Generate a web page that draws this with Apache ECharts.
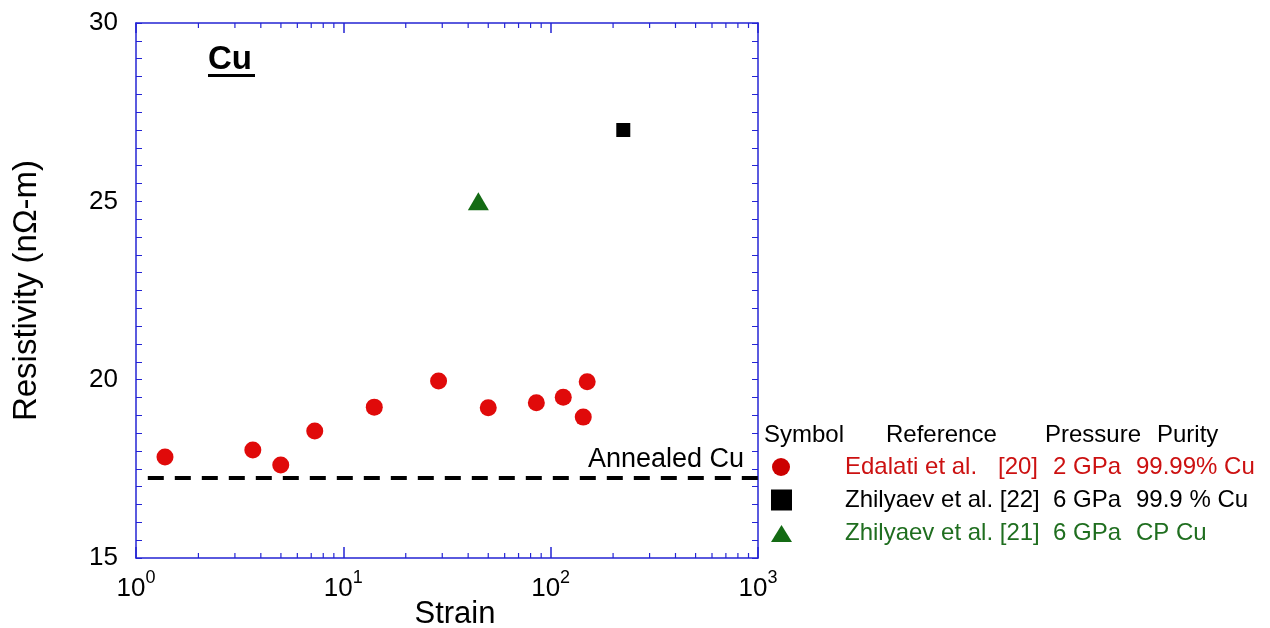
<!DOCTYPE html>
<html>
<head>
<meta charset="utf-8">
<script src="https://cdn.jsdelivr.net/npm/echarts@6/dist/echarts.min.js"></script>
<style>html,body{margin:0;padding:0;background:#fff;}#c{width:1270px;height:628px;}</style>
</head>
<body>
<div id="c"></div>
<script>
// ---- data ----
var edalatiStrain = [1.38, 3.66, 4.99, 7.28, 14.1, 28.8, 50.0, 85.3, 115, 143.6, 150];
var edalatiRes    = [17.83, 18.03, 17.61, 18.56, 19.23, 19.96, 19.21, 19.35, 19.51, 18.95, 19.94];
var zhil22Strain = [224];
var zhil22Res    = [27.0];
var zhil21Strain = [44.8];
var zhil21Res    = [25.0];
var annealedRes = 17.24;
var annealedStrain = [1.14, 1000];
var xMinorTicks = [2,3,4,5,6,7,8,9,20,30,40,50,60,70,80,90,200,300,400,500,600,700,800,900];
var yTicks = [15, 20, 25, 30];
var legendHeader = ['Symbol', 'Reference', 'Pressure', 'Purity'];
var legendRefs = ['Edalati et al.', 'Zhilyaev et al. [22]', 'Zhilyaev et al. [21]'];
var legendRefNum = ['[20]', '', ''];
var legendPress = ['2 GPa', '6 GPa', '6 GPa'];
var legendPurity = ['99.99% Cu', '99.9 % Cu', 'CP Cu'];

var FONT = "'Liberation Sans', Arial, sans-serif";
var AX = '#2424d4';
var RED = '#e00a0a', BLACK = '#000000', GREEN = '#146b14';
var TXT = ['#cc1111', '#000000', '#1f6e1f'];
var yMin = 15, yMax = 30;

function zip(a, b){ return a.map(function(v,i){ return [v, b[i]]; }); }

var chart = echarts.init(document.getElementById('c'));

var graphics = [];
// title
graphics.push({type:'text', left:208, top:43, style:{text:'Cu', font:'bold 33px ' + FONT, fill:'#000'}});
graphics.push({type:'rect', shape:{x:208, y:74, width:47, height:3}, style:{fill:'#000'}});
// annealed label
graphics.push({type:'text', x:744, y:460, style:{text:'Annealed Cu', font:'27px ' + FONT, fill:'#000', align:'right', verticalAlign:'middle'}});
// legend header
var hx = [764, 886, 1045, 1157];
legendHeader.forEach(function(t, i){
  graphics.push({type:'text', x:hx[i], y:435, style:{text:t, font:'24px ' + FONT, fill:'#000', verticalAlign:'middle'}});
});
var rowY = [467, 500, 533];
// legend symbols
graphics.push({type:'circle', shape:{cx:781, cy:rowY[0], r:9}, style:{fill:'#cc0000'}});
graphics.push({type:'rect', shape:{x:771, y:rowY[1]-10.5, width:21, height:21}, style:{fill:'#000'}});
graphics.push({type:'polygon', shape:{points:[[781.5,525],[792,542],[771,542]]}, style:{fill:GREEN}});
for (var i = 0; i < 3; i++) {
  graphics.push({type:'text', x:845, y:rowY[i], style:{text:legendRefs[i], font:'24px ' + FONT, fill:TXT[i], verticalAlign:'middle'}});
  if (legendRefNum[i]) graphics.push({type:'text', x:1038, y:rowY[i], style:{text:legendRefNum[i], font:'24px ' + FONT, fill:TXT[i], align:'right', verticalAlign:'middle'}});
  graphics.push({type:'text', x:1053, y:rowY[i], style:{text:legendPress[i], font:'24px ' + FONT, fill:TXT[i], verticalAlign:'middle'}});
  graphics.push({type:'text', x:1136, y:rowY[i], style:{text:legendPurity[i], font:'24px ' + FONT, fill:TXT[i], verticalAlign:'middle'}});
}

var xLabel = {
  show:true, margin:11, color:'#000', fontFamily:FONT,
  formatter:function(v){ var e = Math.round(Math.log10(v)); return '{b|10}{s|' + e + '}'; },
  rich:{ b:{fontSize:26, lineHeight:40, fontFamily:FONT, color:'#000'}, s:{fontSize:18, lineHeight:18, fontFamily:FONT, color:'#000', verticalAlign:'top'} }
};

var option = {
  animation:false,
  backgroundColor:'#fff',
  grid:{left:136, right:512, top:23, bottom:70, containLabel:false, outerBoundsMode:'none'},
  graphic:graphics,
  xAxis:[
    {type:'log', logBase:10, min:1, max:1000, position:'bottom',
     name:'Strain', nameLocation:'middle', nameGap:41, nameMoveOverlap:false,
     nameTextStyle:{fontSize:31, fontFamily:FONT, color:'#000', padding:[0,0,0,16]},
     axisLine:{show:true, onZero:false, lineStyle:{color:AX, width:1.5}},
     axisTick:{show:true, inside:true, length:11, lineStyle:{color:AX, width:1.5}},
     axisLabel:xLabel, splitLine:{show:false}},
    {type:'log', logBase:10, min:1, max:1000, position:'top',
     axisLine:{show:true, onZero:false, lineStyle:{color:AX, width:1.5}},
     axisTick:{show:true, inside:true, length:10, lineStyle:{color:AX, width:1.5}},
     axisLabel:{show:false}, splitLine:{show:false}}
  ],
  yAxis:[
    {type:'value', min:yMin, max:yMax, interval:5, position:'left',
     name:'Resistivity (nΩ-m)', nameLocation:'middle', nameGap:93, nameMoveOverlap:false,
     nameTextStyle:{fontSize:33, fontFamily:FONT, color:'#000'},
     axisLine:{show:true, onZero:false, lineStyle:{color:AX, width:1.5}},
     axisTick:{show:true, inside:true, length:6, lineStyle:{color:AX, width:1}},
     minorTick:{show:true, splitNumber:10, length:6, lineStyle:{color:AX, width:1}},
     axisLabel:{show:true, margin:18, fontSize:26, fontFamily:FONT, color:'#000'},
     splitLine:{show:false}, minorSplitLine:{show:false}},
    {type:'value', min:yMin, max:yMax, interval:5, position:'right',
     axisLine:{show:true, onZero:false, lineStyle:{color:AX, width:1.5}},
     axisTick:{show:true, inside:true, length:6, lineStyle:{color:AX, width:1}},
     minorTick:{show:true, splitNumber:10, length:6, lineStyle:{color:AX, width:1}},
     axisLabel:{show:false}, splitLine:{show:false}, minorSplitLine:{show:false}}
  ],
  series:[
    {type:'custom', name:'minorTicks', xAxisIndex:0, yAxisIndex:0, silent:true, clip:false, z:1,
     data:xMinorTicks.map(function(v){ return [v, yMin]; }),
     renderItem:function(params, api){
       var v = api.value(0);
       var b = api.coord([v, yMin]);
       var t = api.coord([v, yMax]);
       return {type:'group', children:[
         {type:'line', shape:{x1:b[0], y1:b[1], x2:b[0], y2:b[1]-5}, style:{stroke:AX, lineWidth:1.2}},
         {type:'line', shape:{x1:t[0], y1:t[1], x2:t[0], y2:t[1]+5}, style:{stroke:AX, lineWidth:1.2}}
       ]};
     }},
    {type:'line', name:'Annealed Cu', data:zip(annealedStrain, [annealedRes, annealedRes]),
     symbol:'none', silent:true, z:2,
     lineStyle:{color:'#000', width:4, type:[16,11]}},
    {type:'scatter', name:'Edalati et al. [20]', data:zip(edalatiStrain, edalatiRes),
     symbol:'circle', symbolSize:17, itemStyle:{color:RED, opacity:1}, z:3},
    {type:'scatter', name:'Zhilyaev et al. [22]', data:zip(zhil22Strain, zhil22Res),
     symbol:'rect', symbolSize:14, itemStyle:{color:BLACK, opacity:1}, z:3},
    {type:'scatter', name:'Zhilyaev et al. [21]', data:zip(zhil21Strain, zhil21Res),
     symbol:'triangle', symbolSize:[21,18], itemStyle:{color:GREEN, opacity:1}, z:3}
  ]
};
chart.setOption(option);
</script>
</body>
</html>
